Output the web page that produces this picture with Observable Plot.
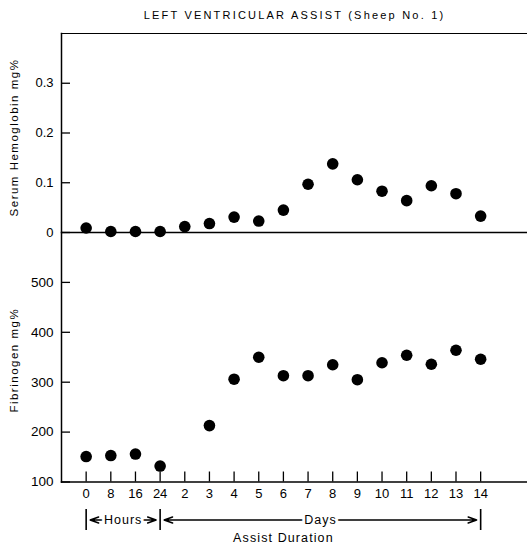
<!DOCTYPE html>
<html>
<head>
<meta charset="utf-8">
<script src="https://cdn.jsdelivr.net/npm/d3@7"></script>
<script src="https://cdn.jsdelivr.net/npm/@observablehq/plot@0.6"></script>
<style>
  html, body { margin: 0; padding: 0; background: #fff; }
  #chart { position: relative; width: 527px; height: 545px; }
  #chart svg { position: absolute; left: 0; top: 0; }
</style>
</head>
<body>
<div id="chart"></div>
<script>
// Sampling points: hours after implant, then days of assist
const title = "LEFT VENTRICULAR ASSIST (Sheep No. 1)";
const periods = ["0", "8", "16", "24", "2", "3", "4", "5", "6", "7", "8", "9", "10", "11", "12", "13", "14"];

// Serum hemoglobin, mg%
const hemoglobin = [0.009, 0.002, 0.002, 0.002, 0.012, 0.018, 0.031, 0.023, 0.045, 0.097, 0.138, 0.106, 0.083, 0.064, 0.094, 0.078, 0.033];
// Fibrinogen, mg% (no sample on day 2)
const fibrinogen = [151, 153, 156, 132, null, 213, 306, 350, 313, 313, 335, 305, 339, 354, 336, 364, 346];

const hemoTicks = [0, 0.1, 0.2, 0.3];
const fibTicks = [100, 200, 300, 400, 500];

const hemoLabel = "Serum Hemoglobin mg%";
const fibLabel = "Fibrinogen mg%";

// Duration brackets along the time axis (indices into periods)
const spans = [
  {label: "Hours", from: 0, to: 3},
  {label: "Days", from: 3, to: 16}
];
const caption = "Assist Duration";

const W = 527, H = 545;
const font = "'Liberation Sans', Arial, Helvetica, sans-serif";
const xScale = {type: "linear", domain: [-1, 17.9]};
const style = {fontFamily: font, fontSize: "13px", color: "black", background: "transparent", overflow: "visible"};
const common = {width: W, height: H, marginLeft: 61, marginRight: 0, style};

const hemoData = periods.map((p, i) => ({i, value: hemoglobin[i]}));
const fibData = periods.map((p, i) => ({i, value: fibrinogen[i]})).filter((d) => d.value != null);
const mid = (d) => (d.from + d.to) / 2;
const boundaries = Array.from(new Set(spans.flatMap((d) => [d.from, d.to])));
const fullMid = (spans[0].from + spans[spans.length - 1].to) / 2;

// Upper panel: serum hemoglobin
const upperPanel = Plot.plot({
  ...common,
  marginTop: 33,
  marginBottom: H - 232,
  x: {...xScale, axis: null},
  y: {domain: [0, 0.4]},
  marks: [
    Plot.frame({anchor: "left", strokeWidth: 1.5}),
    Plot.frame({anchor: "top", strokeWidth: 1.2}),
    Plot.ruleY([0], {strokeWidth: 1.5}),
    Plot.axisY({
      ticks: hemoTicks,
      tickFormat: (d) => (d === 0 ? "0" : d3.format(".1f")(d)),
      tickSize: -9,
      tickPadding: 17,
      strokeWidth: 1.3,
      label: null,
      fontSize: 13
    }),
    Plot.dot(hemoData, {x: "i", y: "value", r: 5.8, fill: "black"}),
    Plot.text([hemoLabel], {frameAnchor: "left", textAnchor: "middle", lineAnchor: "middle", rotate: -90, dx: -47, dy: 4.5, fontSize: 11.5}),
    Plot.text([title], {frameAnchor: "top", lineAnchor: "middle", dy: -18, fontSize: 11})
  ]
});

// Lower panel: fibrinogen, with the shared time axis
const lowerPanel = Plot.plot({
  ...common,
  marginTop: 232,
  marginBottom: H - 481.5,
  x: xScale,
  y: {domain: [100, 600]},
  marks: [
    Plot.frame({anchor: "left", strokeWidth: 1.5}),
    Plot.frame({anchor: "bottom", strokeWidth: 1.5}),
    Plot.axisY({ticks: fibTicks, tickSize: -9, tickPadding: 17, strokeWidth: 1.3, label: null, fontSize: 13.5}),
    Plot.axisX({
      ticks: periods.map((_, i) => i),
      tickFormat: (i) => periods[i],
      tickSize: -10,
      tickPadding: 16.5,
      strokeWidth: 1.3,
      label: null,
      fontSize: 13
    }),
    Plot.dot(fibData, {x: "i", y: "value", r: 5.8, fill: "black"}),
    Plot.text([fibLabel], {frameAnchor: "left", textAnchor: "middle", lineAnchor: "middle", rotate: -90, dx: -47, dy: 3, fontSize: 11.5})
  ]
});

// Hours / Days brackets and the axis caption
const brackets = Plot.plot({
  ...common,
  marginTop: 509,
  marginBottom: 15,
  x: {...xScale, axis: null},
  y: {domain: [0, 1], axis: null},
  marks: [
    Plot.ruleX(boundaries, {strokeWidth: 1.6}),
    Plot.arrow(spans, {x1: mid, x2: "from", y1: 0.5, y2: 0.5, strokeWidth: 1.5, headLength: 9, headAngle: 40, insetEnd: 4}),
    Plot.arrow(spans, {x1: mid, x2: "to", y1: 0.5, y2: 0.5, strokeWidth: 1.5, headLength: 9, headAngle: 40, insetEnd: 4}),
    Plot.text(spans, {x: mid, y: 0.5, text: "label", fill: "black", stroke: "white", strokeWidth: 6, fontSize: 12.5}),
    Plot.text([caption], {x: () => fullMid, frameAnchor: "bottom", lineAnchor: "middle", dy: 7, fontSize: 12.5})
  ]
});

const chart = document.getElementById("chart");
[upperPanel, lowerPanel, brackets].forEach((svg) => chart.appendChild(svg));

// Spaced lettering used for the printed titles
const spacing = new Map([[title, "2.2px"], [hemoLabel, "1.5px"], [fibLabel, "1.5px"], [caption, "1.1px"], ["Hours", "1px"], ["Days", "1px"]]);
d3.select(chart).selectAll("text").each(function () {
  const s = spacing.get(this.textContent);
  if (s) d3.select(this).style("letter-spacing", s);
});
</script>
</body>
</html>
